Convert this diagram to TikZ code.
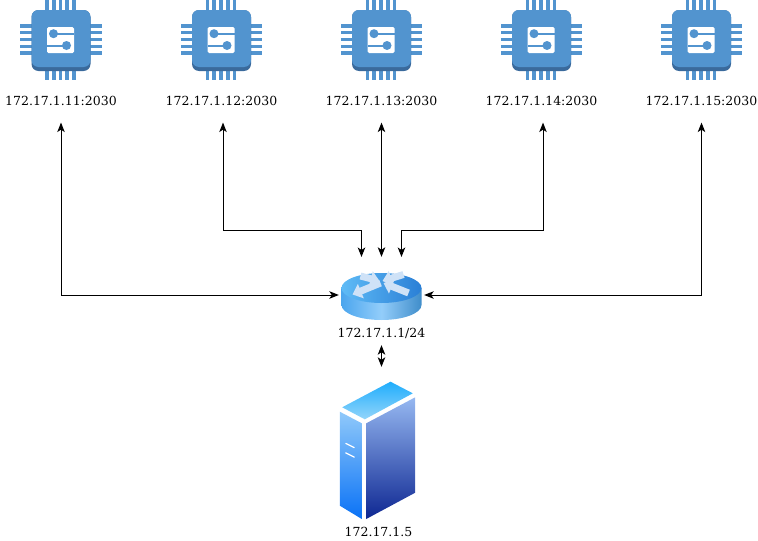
\documentclass[tikz,border=0pt]{standalone}
\usepackage{fontspec}
\setmainfont{DejaVu Serif}
\usetikzlibrary{arrows.meta,positioning}
\definecolor{chipblue}{HTML}{5294CF}
\definecolor{chipdark}{HTML}{3A6A9C}
\definecolor{routerside}{HTML}{4BA6EE}
\definecolor{routerlight}{HTML}{93CDFA}
\definecolor{routertop}{HTML}{5FBBF6}
\definecolor{routerdeep}{HTML}{2A7FD6}
\definecolor{routerarrow}{HTML}{CFE2F7}
\definecolor{srvtopa}{HTML}{1FADFC}
\definecolor{srvtopb}{HTML}{93D5FB}
\definecolor{srvlefta}{HTML}{90C9FA}
\definecolor{srvleftb}{HTML}{0A72F6}
\definecolor{srvrighta}{HTML}{96B8F1}
\definecolor{srvrightb}{HTML}{0E2792}
\tikzset{
  chip/.pic={
    % pins
    \foreach \o in {-14,-7.2,-0.5,6.2,13} {
      \fill[chipblue] (-41,\o-1.6) rectangle (40.5,\o+1.6);
      \fill[chipblue] (\o-1.9,-40) rectangle (\o+1.9,40);
    }
    \fill[chipdark,rounded corners=7pt] (-29.5,-30) rectangle (29.5,31);
    \fill[chipblue,rounded corners=7pt] (-29.5,-30) rectangle (29.5,27);
    % symbol
    \fill[white,rounded corners=1.5pt] (-14,-13) rectangle (13,13);
    \draw[chipblue,line width=2pt] (-7.5,-6.3) -- (13,-6.3);
    \draw[chipblue,line width=2pt] (5.5,5.5) -- (-14,5.5);
    \fill[chipblue] (-7.5,-6.3) circle (4.5);
    \fill[chipblue] (5.5,5.5) circle (4.5);
  },
  router/.pic={
    \path[left color=routerside,right color=routerside!85!black,middle color=routerlight]
      (-40,-7) -- (-40,10) arc[start angle=180,end angle=0,x radius=40,y radius=15]
      -- (40,-7) -- cycle;
    \path[left color=routertop,right color=routerdeep]
      (0,-7) ellipse[x radius=40,y radius=15];
    \draw[rarrow] (-21,-19) -- (-2,-14);
    \draw[rarrow] (-1,-12) -- (-29,-0.5);
    \draw[rarrow] (22,-20.5) -- (1,-14);
    \draw[rarrow] (27,-2) -- (2,-12);
  },
  server/.pic={
    \path[top color=srvtopa,bottom color=srvtopb]
      (9,-61.3) -- (31.3,-49.7) -- (-16.7,-23.7) -- (-39.3,-35.7) -- cycle;
    \path[top color=srvlefta,bottom color=srvleftb]
      (-41.7,-31.3) -- (-19.7,-19.7) -- (-19.7,76) -- (-41.7,62.7) -- cycle;
    \path[top color=srvrighta,bottom color=srvrightb]
      (-15.3,-19.7) -- (33.7,-45.7) -- (33.7,49.7) -- (-15.3,76) -- cycle;
    \draw[white,line width=1.2pt] (-36,0.3) -- (-27,4.7);
    \draw[white,line width=1.2pt] (-36,9.7) -- (-27,14.3);
  }
}

\begin{document}
\begin{tikzpicture}[
  x=1pt,y=-1pt,
  every node/.style={font=\fontsize{12.5}{15}\selectfont,align=center,inner sep=0pt},
  link/.style={{Stealth[length=9.5pt,width=7.5pt,inset=2.5pt]}-{Stealth[length=9.5pt,width=7.5pt,inset=2.5pt]},line width=1pt,draw=black},
  rarrow/.style={-{Triangle[length=9pt,width=15pt]},line width=7pt,draw=routerarrow},
  spot/.style={minimum width=80pt,minimum height=80pt},
  addr/.style={minimum height=42pt}
]
\useasboundingbox (0,0) rectangle (758,541);

% end devices
\foreach \i/\x/\t in {1/61/11,2/221.5/12,3/381.5/13,4/541.5/14,5/701.5/15} {
  \node[spot] (chip\i) at (\x,40) {};
  \pic at (chip\i.center) {chip};
  \node[addr,below=0pt of chip\i] (lbl\i) {172.17.1.\t:2030};
}

\node[minimum width=85pt,minimum height=76pt] (rtr) at (381.5,295) {};
\pic at (rtr.center) {router};
\node[minimum height=24pt] (rtrlbl) at (381.5,333) {172.17.1.1/24};

\node[minimum width=80pt,minimum height=152pt] (srv) at (381.5,443) {};
\pic at (srv.center) {server};
\node (srvlbl) at (378.5,532) {172.17.1.5};

\coordinate (nw) at (361.5,257);
\coordinate (ne) at (401.5,257);

\draw[link] (lbl1.south) |- (rtr.west);
\draw[link] (lbl5.south) |- (rtr.east);
\draw[link] ([xshift=1.5pt]lbl2.south) |- (361.5,230) -- (nw);
\draw[link] (lbl3.south) -- (rtr.north);
\draw[link] ([xshift=1.5pt]lbl4.south) |- (401.5,230) -- (ne);
\draw[link] (rtrlbl.south) -- (srv.north);

\end{tikzpicture}
\end{document}
